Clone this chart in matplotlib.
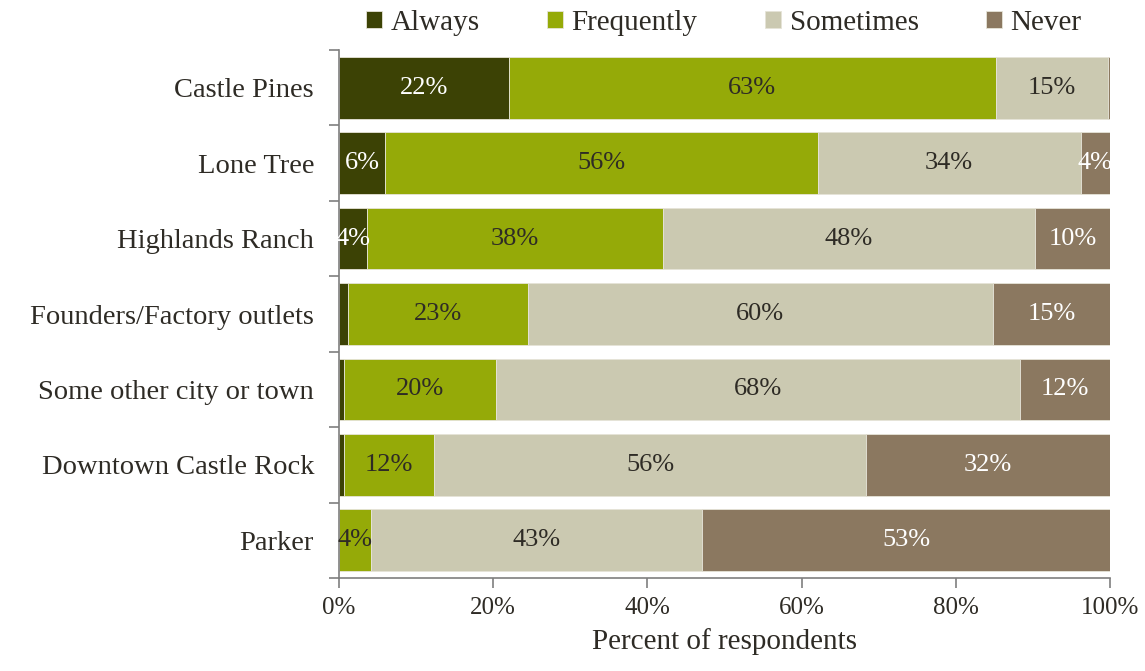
import numpy as np
import matplotlib.pyplot as plt
from matplotlib.ticker import FixedLocator, PercentFormatter

places = ["Castle Pines", "Lone Tree", "Highlands Ranch",
          "Founders/Factory outlets", "Some other city or town",
          "Downtown Castle Rock", "Parker"]
answers = ["Always", "Frequently", "Sometimes", "Never"]

always = [22.0, 6.0, 3.6, 1.2, 0.7, 0.6, 0.0]
frequently = [63.2, 56.1, 38.4, 23.3, 19.6, 11.7, 4.2]
sometimes = [14.6, 34.1, 48.3, 60.3, 68.0, 56.1, 42.9]
never = [0.2, 3.8, 9.7, 15.2, 11.7, 31.6, 52.9]

colors = ["#3c4205", "#95aa08", "#cbc9b1", "#8b7860"]
label_colors = ["white", "#2e2b25", "#2e2b25", "white"]
text_color = "#2e2b25"

plt.rcParams["font.family"] = ["Liberation Serif", "DejaVu Serif"]

fig = plt.figure(figsize=(11.45, 6.71), dpi=100)
ax = fig.add_axes([339 / 1145, 1 - 578 / 671, 771 / 1145, 528 / 671])

y = np.arange(len(places))
left = np.zeros(len(places))
for name, vals, col, lcol in zip(answers, [always, frequently, sometimes, never],
                                 colors, label_colors):
    vals = np.array(vals)
    bars = ax.barh(y, vals, left=left, height=0.82, color=col, label=name,
                   edgecolor="#e6e4d8", linewidth=0.6)
    labels = [f"{v:.0f}%" if v >= 3 else "" for v in vals]
    ax.bar_label(bars, labels=labels, label_type="center", color=lcol,
                 fontsize=19)
    left += vals

ax.set_xlim(0, 100)
ax.set_ylim(len(places) - 0.5, -0.5)
ax.set_yticks(y)
ax.set_yticklabels(places)
ax.yaxis.set_minor_locator(FixedLocator(np.arange(-0.5, len(places), 1)))
ax.tick_params(axis="y", which="major", length=0, pad=18, labelsize=20.5,
               labelcolor=text_color)
ax.tick_params(axis="y", which="minor", length=7, color="#7f7f7f", width=1.2)
ax.set_xticks(np.arange(0, 101, 20))
ax.xaxis.set_major_formatter(PercentFormatter(decimals=0))
ax.tick_params(axis="x", length=7, color="#7f7f7f", width=1.2, labelsize=18,
               labelcolor=text_color, pad=7)
ax.set_xlabel("Percent of respondents", fontsize=21, color=text_color,
              labelpad=6)

for side in ["top", "right"]:
    ax.spines[side].set_visible(False)
for side in ["left", "bottom"]:
    ax.spines[side].set_color("#7f7f7f")
    ax.spines[side].set_linewidth(1.2)

handles, names = ax.get_legend_handles_labels()
fig.legend(handles, names, loc="center", bbox_to_anchor=(0.632, 0.966), ncol=4,
           frameon=False, fontsize=21, handlelength=0.55, handleheight=0.55,
           handletextpad=0.3, columnspacing=2.3, labelcolor=text_color,
           borderpad=0)

fig.savefig("out.png", dpi=100)
